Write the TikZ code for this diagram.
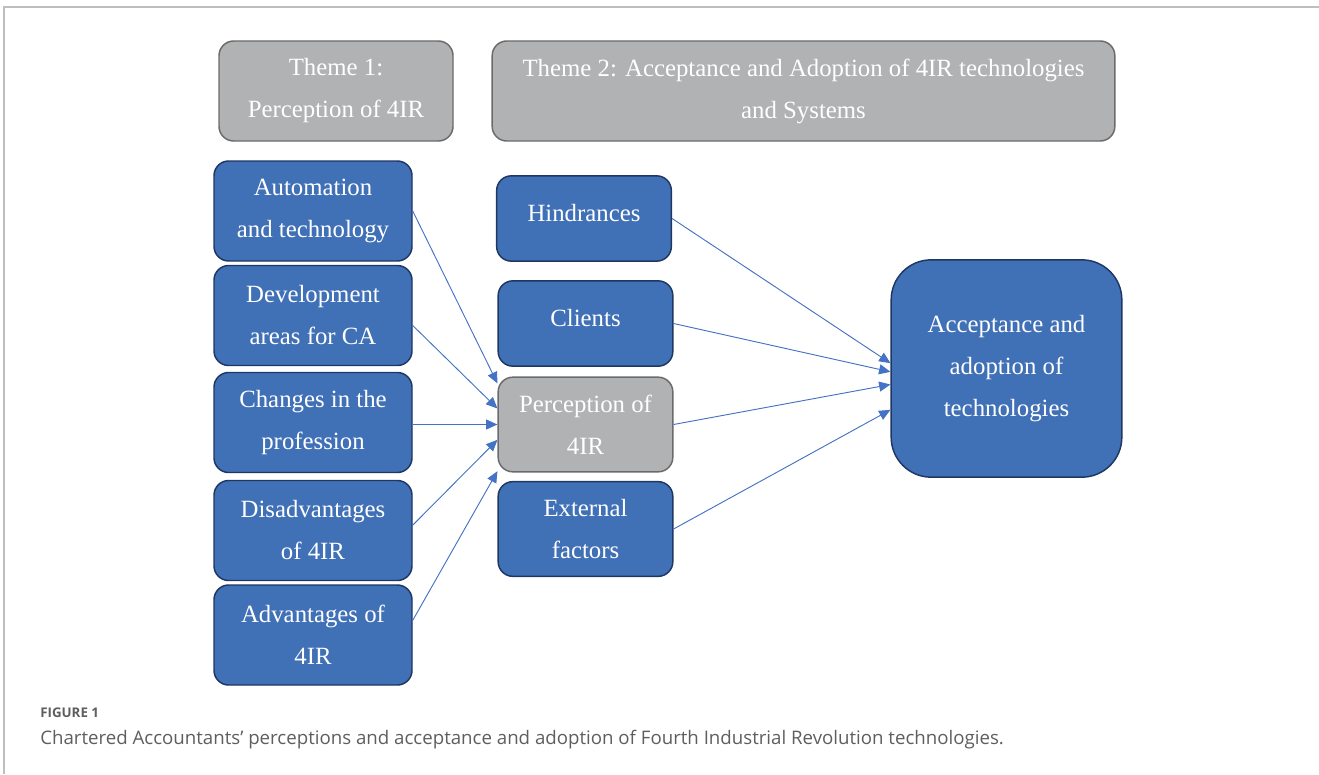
\documentclass[tikz,border=0pt]{standalone}
\usepackage{fontspec}
\setmainfont{Liberation Serif}
\newfontfamily\capfont{Open Sans}
\usetikzlibrary{arrows.meta}
\definecolor{boxblue}{HTML}{4070B6}
\definecolor{boxedge}{HTML}{1F3763}
\definecolor{boxgray}{HTML}{B1B2B3}
\definecolor{grayedge}{HTML}{6B6B6B}
\definecolor{arrowblue}{HTML}{4472C4}
\definecolor{framegray}{HTML}{BEBEBE}
\definecolor{capgray}{HTML}{5E5E5E}
\tikzset{cell/.style={draw=boxedge,fill=boxblue,line width=1.1pt,rounded corners=11pt,text=white,align=center,inner sep=2pt,font=\fontsize{18.6}{31.5}\selectfont}}

\begin{document}
\begin{tikzpicture}[x=0.75pt,y=-0.75pt,
    theme/.style={cell,draw=grayedge,fill=boxgray,minimum height=75pt},
    left/.style={cell,minimum width=148.5pt,minimum height=75pt},
    mid/.style={cell,minimum width=131pt,minimum height=64pt},
    link/.style={arrowblue,line width=0.7pt,-{Triangle[length=8.5pt,width=7.5pt]}}]
    \useasboundingbox (0,0) rectangle (1319,774);
    \draw[framegray,line width=1.3pt] (1319,7) -- (4,7) -- (4,774);

    % theme headers
    \node (T1) at (336,91) [theme,minimum width=175.5pt] {Theme 1:\\Perception of 4IR};
    \node (T2) at (803.5,91) [theme,minimum width=467pt] {Theme 2: Acceptance and Adoption of 4IR technologies\\and Systems};

    % theme 1 column
    \node (auto) at (313,211) [left] {Automation\\and technology};
    \node (dev) at (313,315.5) [left] {Development\\areas for CA};
    \node (chg) at (313,422.5) [left] {Changes in the\\profession};
    \node (dis) at (313,530.5) [left] {Disadvantages\\of 4IR};
    \node (adv) at (313,635) [left] {Advantages of\\4IR};

    % theme 2 column
    \node (hind) at (584,218.5) [mid,text depth=8pt] {Hindrances};
    \node (cli) at (585.5,323.5) [mid,text depth=8pt] {Clients};
    \node (perc) at (585.5,424.5) [mid,draw=grayedge,fill=boxgray,minimum height=71pt] {Perception of\\4IR};
    \node (ext) at (585.5,529) [mid,minimum height=71pt] {External\\factors};
    \node (acc) at (1006.5,368.5) [cell,rounded corners=30pt,minimum width=173pt,minimum height=163pt] {Acceptance and\\adoption of\\technologies};

    \draw[link] (auto.east) -- ([yshift=30.8pt]perc.west);
    \draw[link] ([yshift=-7.5pt]dev.east) -- ([yshift=12pt]perc.west);
    \draw[link] ([yshift=-1.5pt]chg.east) -- (perc.west);
    \draw[link] ([yshift=4pt]dis.east) -- ([yshift=-11.5pt]perc.west);
    \draw[link] ([yshift=11pt]adv.east) -- ([yshift=-35pt]perc.west);

    \draw[link] (hind.east) -- ([yshift=4pt]acc.west);
    \draw[link] (cli.east) -- ([yshift=-2.5pt]acc.west);
    \draw[link] (perc.east) -- ([yshift=-12pt]acc.west);
    \draw[link] (ext.east) -- ([yshift=-31pt]acc.west);

    % caption
    \node (fig) at (40,717) [anchor=base west,inner sep=0pt,text=capgray,font=\capfont\bfseries\fontsize{10}{12}\selectfont] {FIGURE 1};
    \node (cap) at (40,744) [anchor=base west,inner sep=0pt,text=capgray,font=\capfont\fontsize{14}{17}\selectfont] {Chartered Accountants’ perceptions and acceptance and adoption of Fourth Industrial Revolution technologies.};
\end{tikzpicture}
\end{document}
